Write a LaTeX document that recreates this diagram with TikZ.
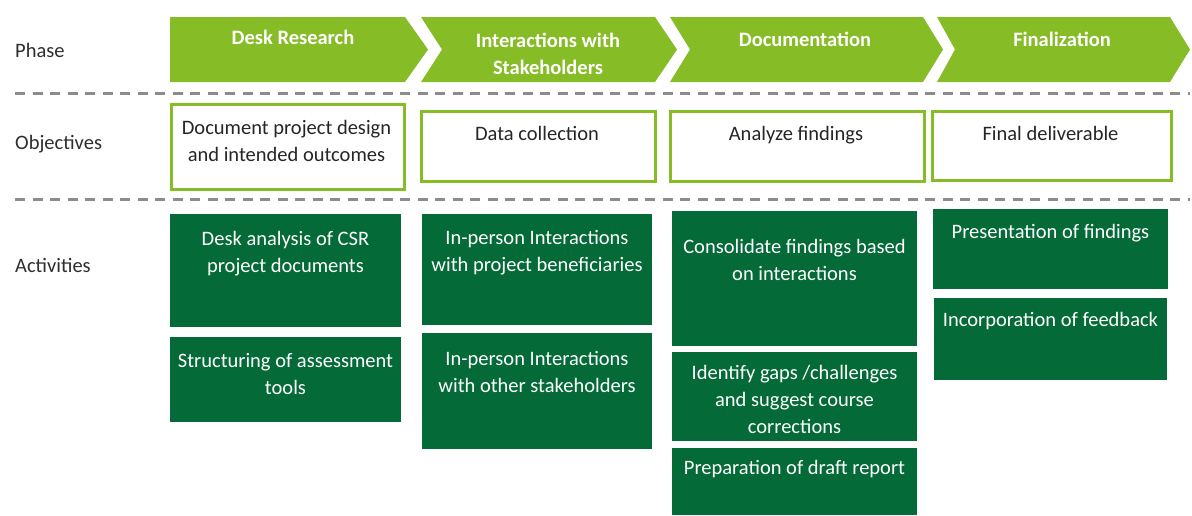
\documentclass[tikz,border=0pt]{standalone}
\usepackage{fontspec}
\setmainfont{Carlito}
\usetikzlibrary{positioning}
\definecolor{lgreen}{HTML}{86BC25}
\definecolor{dgreen}{HTML}{046A38}
\definecolor{dashgray}{HTML}{8C8C8C}
\definecolor{labelgray}{HTML}{2E2E2E}
\tikzset{
  every node/.style={inner sep=0pt},
  rowlabel/.style={anchor=base west, text=labelgray, font=\fontsize{20.5}{27}\selectfont},
  phasetext/.style={anchor=north, align=center, text=white, font=\fontsize{20.5}{27}\selectfont\bfseries},
  objbox/.style={anchor=north west, draw=lgreen, line width=2.5pt, fill=white},
  objtext/.style={anchor=north, align=center, text=black!85, font=\fontsize{20.5}{27}\selectfont},
  actbox/.style={anchor=north west, fill=dgreen},
  acttext/.style={anchor=north, align=center, text=white, font=\fontsize{20.5}{27}\selectfont},
  sepline/.style={dashgray, line width=3pt, dash pattern=on 10pt off 7.5pt}
}

\begin{document}
\begin{tikzpicture}[x=1pt,y=-1pt]
\useasboundingbox (0,0) rectangle (1192,515);
% row labels
\node[rowlabel] (phase) at (15,57) {Phase};
\node[rowlabel] (objectives) at (15,149) {Objectives};
\node[rowlabel] (activities) at (15,272) {Activities};
% phase chevrons
\fill[lgreen] (170,17) -- (405,17) -- (428,49.5) -- (405,82) -- (170,82) -- cycle;
\fill[lgreen] (421,17) -- (655,17) -- (677,49.5) -- (655,82) -- (421,82) -- (442,49.5) -- cycle;
\fill[lgreen] (670,17) -- (923,17) -- (943,49.5) -- (923,82) -- (670,82) -- (690,49.5) -- cycle;
\fill[lgreen] (937,17) -- (1170,17) -- (1190,49.5) -- (1170,82) -- (937,82) -- (955,49.5) -- cycle;
\node[phasetext] (desk) at (293,30) {Desk Research};
\node[phasetext] (inter) at (548,33) {Interactions with\\Stakeholders};
\node[phasetext] (docu) at (805,32) {Documentation};
\node[phasetext] (final) at (1062,32) {Finalization};
% separators
\draw[sepline] (15,93) -- (1190,93);
\draw[sepline] (15,199) -- (1190,199);
% objectives
\node[objbox, minimum width=233, minimum height=85] (obj1) at (170,103) {};
\node[objbox, minimum width=234, minimum height=70] (obj2) at (420,110) {};
\node[objbox, minimum width=254, minimum height=70] (obj3) at (669,110) {};
\node[objbox, minimum width=239, minimum height=69] (obj4) at (931,110) {};
\node[objtext] (obj1t) at (286.5,120) {Document project design\\and intended outcomes};
\node[objtext] (obj2t) at (537,126) {Data collection};
\node[objtext] (obj3t) at (796,126) {Analyze findings};
\node[objtext] (obj4t) at (1050.5,126) {Final deliverable};
% activities
\node[actbox, minimum width=231, minimum height=113] (act1) at (170,214) {};
\node[actbox, minimum width=231, minimum height=85] (act2) at (170,337) {};
\node[actbox, minimum width=230, minimum height=111] (act3) at (422,214) {};
\node[actbox, minimum width=230, minimum height=116] (act4) at (422,333) {};
\node[actbox, minimum width=245, minimum height=135] (act5) at (672,211) {};
\node[actbox, minimum width=245, minimum height=89] (act6) at (672,352) {};
\node[actbox, minimum width=245, minimum height=67] (act7) at (672,448) {};
\node[actbox, minimum width=235, minimum height=80] (act8) at (933,209) {};
\node[actbox, minimum width=233, minimum height=82] (act9) at (934,298) {};
\node[acttext] (act1t) at (285.5,231.5) {Desk analysis of CSR\\project documents};
\node[acttext] (act2t) at (285.5,353.5) {Structuring of assessment\\tools};
\node[acttext] (act3t) at (537,230.5) {In-person Interactions\\with project beneficiaries};
\node[acttext] (act4t) at (537,351.5) {In-person Interactions\\with other stakeholders};
\node[acttext] (act5t) at (794.5,239.5) {Consolidate findings based\\on interactions};
\node[acttext] (act6t) at (794.5,365) {Identify gaps /challenges\\and suggest course\\corrections};
\node[acttext] (act7t) at (794.5,460) {Preparation of draft report};
\node[acttext] (act8t) at (1050.5,224.5) {Presentation of findings};
\node[acttext] (act9t) at (1050.5,312.5) {Incorporation of feedback};
\end{tikzpicture}
\end{document}
